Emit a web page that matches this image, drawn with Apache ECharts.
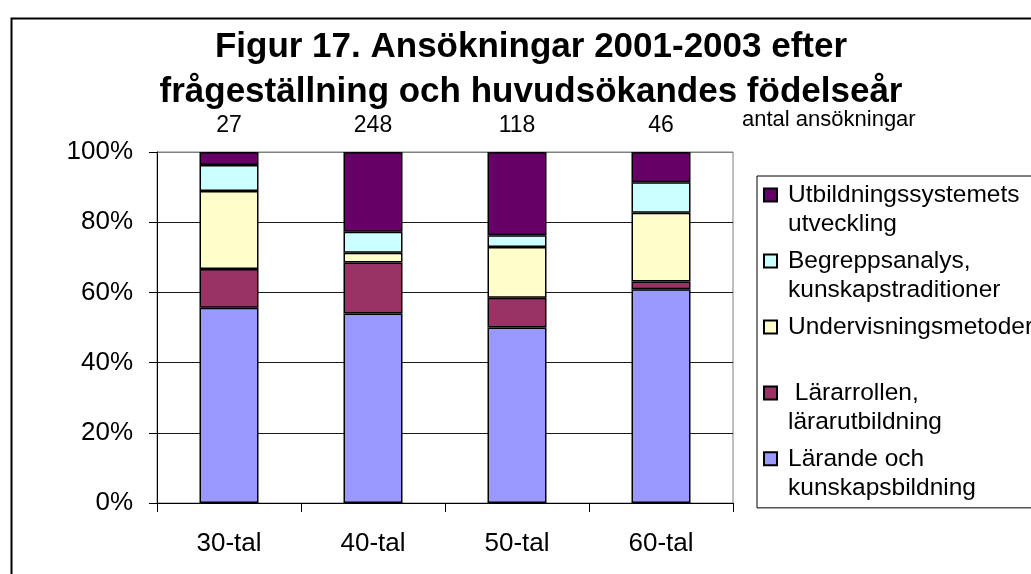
<!DOCTYPE html>
<html>
<head>
<meta charset="utf-8">
<script src="https://cdn.jsdelivr.net/npm/echarts@6/dist/echarts.min.js"></script>
<style>
  html, body { margin: 0; padding: 0; background: #fff; }
  #chart { width: 1031px; height: 574px; }
</style>
</head>
<body>
<div id="chart"></div>
<script>
// Figur 17 - staplade andelar per födelsedecennium
var categories = ['30-tal', '40-tal', '50-tal', '60-tal'];
var totals = ['27', '248', '118', '46'];

// andel (%) per frågeställning, nerifrån och upp
var larande = [55.6, 54.0, 50.0, 60.9];
var lararrollen = [11.1, 14.5, 8.5, 2.2];
var undervisning = [22.2, 2.8, 14.4, 19.6];
var begrepp = [7.4, 6.0, 3.4, 8.7];
var utbildning = [3.7, 22.7, 23.7, 8.6];

var seriesNames = [
    'Lärande och\nkunskapsbildning',
    ' Lärarrollen,\nlärarutbildning',
    'Undervisningsmetoder\n',
    'Begreppsanalys,\nkunskapstraditioner',
    'Utbildningssystemets\nutveckling'
];
var seriesColors = ['#9999ff', '#993366', '#ffffcc', '#ccffff', '#660066'];
var seriesData = [larande, lararrollen, undervisning, begrepp, utbildning];

var yTicks = [0, 20, 40, 60, 80, 100];

var FONT = '"Liberation Sans", Arial, sans-serif';

var chart = echarts.init(document.getElementById('chart'));

var series = [];
for (var i = 0; i < seriesNames.length; i++) {
    series.push({
        name: seriesNames[i],
        type: 'bar',
        stack: 'total',
        data: seriesData[i],
        barWidth: 59,
        itemStyle: {
            color: seriesColors[i],
            borderColor: '#000',
            borderWidth: 1.5
        }
    });
}

var option = {
    backgroundColor: '#fff',
    animation: false,
    title: {
        text: 'Figur 17. Ansökningar 2001-2003 efter\nfrågeställning och huvudsökandes födelseår',
        left: 526,
        top: 20,
        textAlign: 'center',
        textStyle: {
            fontFamily: FONT,
            fontSize: 35,
            fontWeight: 'bold',
            lineHeight: 45,
            color: '#000'
        }
    },
    legend: {
        orient: 'vertical',
        left: 757,
        top: 176,
        padding: [4, 30, 4, 6],
        itemGap: 6,
        itemWidth: 19,
        itemHeight: 58,
        icon: 'path://M0,7.5L13,7.5L13,20.5L0,20.5Z M0,0L0.01,0 M19,58L19.01,58',
        borderColor: '#000',
        borderWidth: 1,
        backgroundColor: '#fff',
        textStyle: {
            fontFamily: FONT,
            fontSize: 24.5,
            lineHeight: 29,
            color: '#000'
        },
        data: seriesNames.slice().reverse()
    },
    grid: {
        left: 157,
        right: 298,
        top: 152,
        bottom: 71,
        show: true,
        borderColor: '#808080',
        borderWidth: 1
    },
    xAxis: [{
        type: 'category',
        data: categories,
        position: 'bottom',
        axisLine: { lineStyle: { color: '#000', width: 1 } },
        axisTick: { show: true, length: 9, lineStyle: { color: '#000' } },
        axisLabel: { color: '#000', fontFamily: FONT, fontSize: 26, margin: 28 }
    }, {
        type: 'category',
        data: totals,
        position: 'top',
        axisLine: { show: false },
        axisTick: { show: false },
        axisLabel: { color: '#000', fontFamily: FONT, fontSize: 23, margin: 15 }
    }],
    yAxis: {
        type: 'value',
        min: 0,
        max: 100,
        interval: 20,
        axisLine: { show: true, lineStyle: { color: '#000', width: 1 } },
        axisTick: { show: true, length: 8, lineStyle: { color: '#000' } },
        axisLabel: {
            color: '#000',
            fontFamily: FONT,
            fontSize: 26,
            margin: 24,
            formatter: function (v) {
                return yTicks.indexOf(v) >= 0 ? v + '%' : '';
            }
        },
        splitLine: {
            show: true,
            lineStyle: {
                color: ['#1a1a1a', '#1a1a1a', '#1a1a1a', '#1a1a1a', '#1a1a1a', '#808080'],
                width: 1
            }
        }
    },
    graphic: [{
        type: 'rect',
        left: 9,
        top: 16,
        shape: { width: 1100, height: 700 },
        style: { fill: null, stroke: '#000', lineWidth: 2 },
        silent: true
    }, {
        type: 'text',
        left: 742,
        top: 109,
        style: {
            text: 'antal ansökningar',
            fontFamily: FONT,
            fontSize: 22,
            fill: '#000'
        },
        silent: true
    }],
    series: series
};

chart.setOption(option);
</script>
</body>
</html>
